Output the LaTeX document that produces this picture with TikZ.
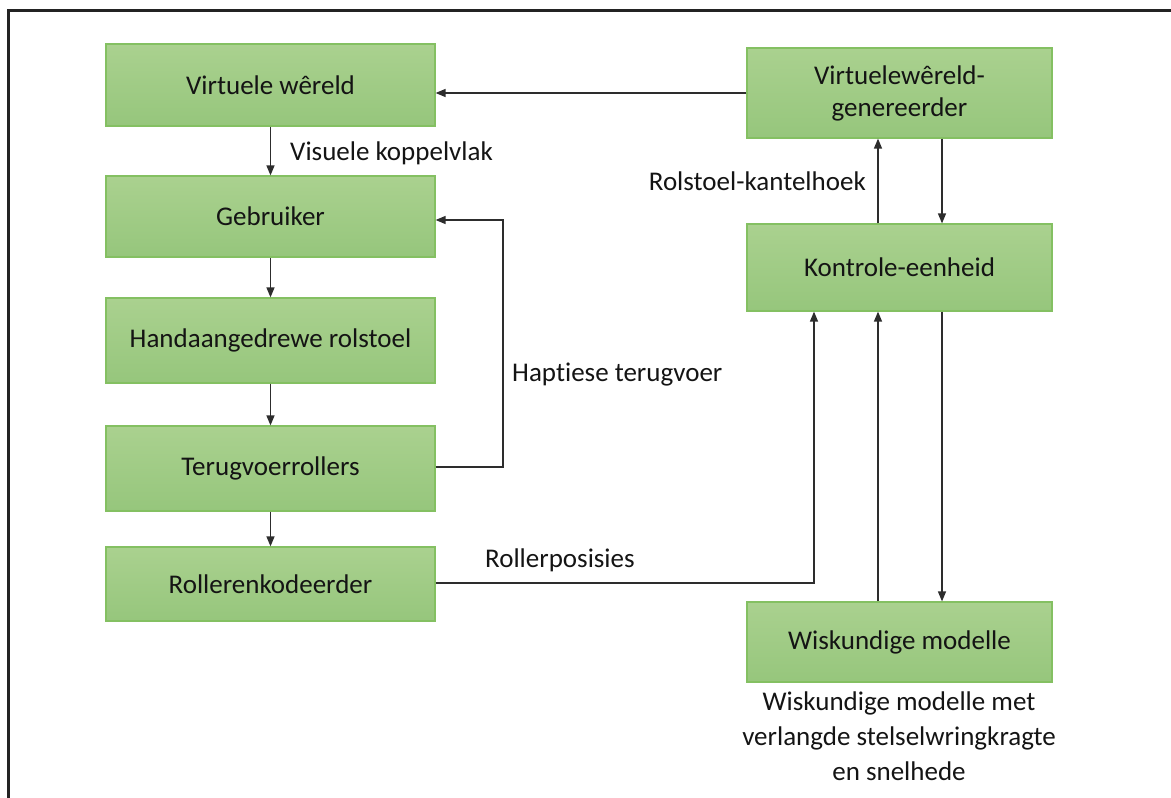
\documentclass[tikz,border=0pt]{standalone}
\usepackage{fontspec}
\setmainfont[Ligatures=NoCommon]{Carlito}
\usetikzlibrary{arrows.meta,calc}
\definecolor{boxtop}{RGB}{170,209,143}
\definecolor{boxbot}{RGB}{150,198,124}
\definecolor{boxline}{RGB}{132,192,98}
\definecolor{txt}{RGB}{20,20,20}
\definecolor{arr}{RGB}{45,45,45}
\tikzset{
  blok/.style={rectangle, inner sep=0pt, top color=boxtop, bottom color=boxbot,
    draw=boxline, line width=1.2pt, text=txt, align=center,
    font=\fontsize{27}{32}\selectfont},
  lbl/.style={inner sep=0pt, text=txt, font=\fontsize{27}{35}\selectfont},
  pyl/.style={draw=arr, line width=1.3pt, -{Triangle[length=10pt,width=8pt]}},
}
\begin{document}
\begin{tikzpicture}[x=1pt,y=-1pt]
\useasboundingbox (0,0) rectangle (1171,798);
\draw[line width=3pt, draw={rgb,255:red,35;green,35;blue,35}] (8,800) -- (8,10) -- (1173,10);
% left column
\node[blok, minimum width=329pt, minimum height=82pt] (vw) at (270.5,85) {Virtuele wêreld};
\node[blok, minimum width=329pt, minimum height=81pt] (geb) at (270.5,216.5) {Gebruiker};
\node[blok, minimum width=329pt, minimum height=85pt] (hand) at (270.5,340.5) {Handaangedrewe rolstoel};
\node[blok, minimum width=329pt, minimum height=85pt] (terug) at (270.5,468.5) {Terugvoerrollers};
\node[blok, minimum width=329pt, minimum height=74pt] (enk) at (270.5,584) {Rollerenkodeerder};
% right column
\node[blok, minimum width=305pt, minimum height=90pt] (gen) at (899.5,93) {Virtuelewêreld-\\genereerder};
\node[blok, minimum width=305pt, minimum height=87pt] (kon) at (899.5,267.5) {Kontrole-eenheid};
\node[blok, minimum width=305pt, minimum height=80pt] (wis) at (899.5,642) {Wiskundige modelle};
% labels
\node[lbl, anchor=west] (l1) at (290,153) {Visuele koppelvlak};
\node[lbl, anchor=west] (l2) at (512,375) {Haptiese terugvoer};
\node[lbl, anchor=west] (l3) at (485,560) {Rollerposisies};
\node[lbl, anchor=east] (l4) at (866,181) {Rolstoel-kantelhoek};
\node[lbl, anchor=north, align=center] (l5) at (899,692) {Wiskundige modelle met\\verlangde stelselwringkragte\\en snelhede};
% connectors
\draw[pyl] (vw.south) -- (geb.north);
\draw[pyl] (geb.south) -- (hand.north);
\draw[pyl] (hand.south) -- (terug.north);
\draw[pyl] (terug.south) -- (enk.north);
\coordinate (tv) at (terug.east |- 0,467);
\coordinate (gb) at (geb.east |- 0,220);
\draw[pyl] (tv) -- (503,467) -- (503,220) -- (gb);
\coordinate (ek) at (enk.east |- 0,583);
\draw[pyl] (ek) -- (814,583) -- (kon.south -| 814,0);
\draw[pyl] (gen.west) -- (gen.west -| vw.east);
\draw[pyl] (kon.north -| 878,0) -- (gen.south -| 878,0);
\draw[pyl] (gen.south -| 942,0) -- (kon.north -| 942,0);
\draw[pyl] (wis.north -| 878,0) -- (kon.south -| 878,0);
\draw[pyl] (kon.south -| 942,0) -- (wis.north -| 942,0);
\end{tikzpicture}
\end{document}
